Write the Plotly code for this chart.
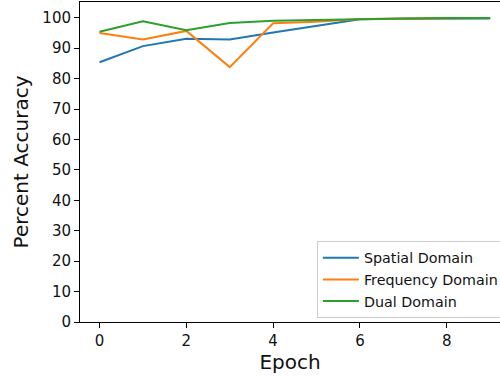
import plotly.graph_objects as go

epochs = [0, 1, 2, 3, 4, 5, 6, 7, 8, 9]
spatial = [85.4, 90.7, 93.1, 92.9, 95.2, 97.3, 99.5, 99.7, 99.8, 99.8]
frequency = [95.0, 92.9, 95.7, 83.8, 98.2, 98.7, 99.6, 99.7, 99.8, 99.9]
dual = [95.4, 98.9, 95.9, 98.3, 99.0, 99.3, 99.6, 99.8, 99.9, 99.9]

names = ["Spatial Domain", "Frequency Domain", "Dual Domain"]
colors = ["#1f77b4", "#ff7f0e", "#2ca02c"]
yticks = [0, 10, 20, 30, 40, 50, 60, 70, 80, 90, 100]
xticks = [0, 2, 4, 6, 8]

font = "DejaVu Sans"
txt = "#111111"
fig = go.Figure()
for n, c, ys in zip(names, colors, [spatial, frequency, dual]):
    fig.add_trace(go.Scatter(x=epochs, y=ys, mode="lines", name=n,
                             line=dict(color=c, width=2)))

fig.update_layout(
    width=500, height=377,
    margin=dict(l=80, r=0, t=2, b=55, autoexpand=False),
    plot_bgcolor="white", paper_bgcolor="white",
    font=dict(family=font, size=14, color=txt),
    showlegend=True,
    legend=dict(x=0.564, y=0.253, xanchor="left", yanchor="top",
                bgcolor="rgba(255,255,255,0.8)", bordercolor="#cccccc",
                borderwidth=1, font=dict(family=font, size=14.3, color=txt),
                itemwidth=36, tracegroupgap=0),
    xaxis=dict(range=[-0.45, 9.227], tickvals=xticks, showgrid=False,
               zeroline=False, showline=True, linecolor="black", linewidth=1,
               mirror=True, ticks="outside", ticklen=5, tickcolor="black",
               tickfont=dict(size=15, color=txt),
               title=dict(text="Epoch", font=dict(size=20, color=txt), standoff=2)),
    yaxis=dict(range=[0, 105.2], tickvals=yticks, showgrid=False,
               zeroline=False, showline=True, linecolor="black", linewidth=1,
               ticks="outside", ticklen=5, tickcolor="black",
               tickfont=dict(size=15, color=txt),
               title=dict(text="Percent Accuracy", font=dict(size=20, color=txt), standoff=8)),
)
fig.write_html("out.html", config={"displayModeBar": False},
               post_script="document.body.style.margin='0';")
